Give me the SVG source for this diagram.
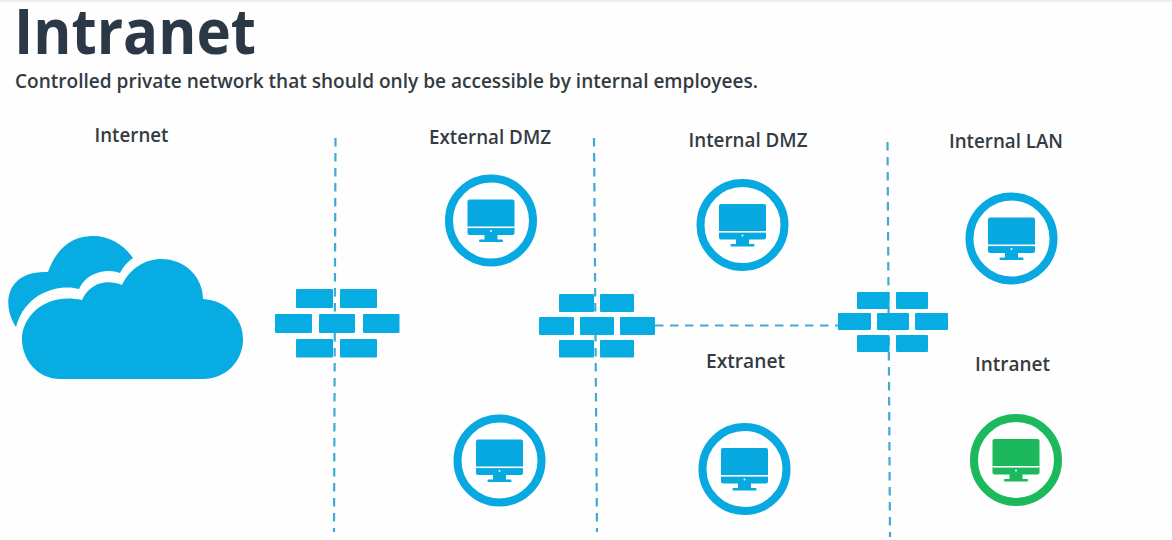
<svg xmlns="http://www.w3.org/2000/svg" width="1172" height="540" viewBox="0 0 1172 540">
<defs>
<style>
text{font-family:"Open Sans","Noto Sans","Liberation Sans",sans-serif}
.title{font-size:62px;font-weight:700;fill:#2a3945}
.sub{font-size:19px;font-weight:600;fill:#333b42}
.lbl{font-size:19px;font-weight:600;fill:#343b42}
.dash{fill:none;stroke:#3fabd2;stroke-width:2.2;stroke-dasharray:8.5 6.5}
.brick{fill:#07ace3}
.ring{fill:#fff;stroke:currentColor;stroke-width:8}
.blue{color:#07a9e0}
.green{color:#1cb85c}
.scr{fill:currentColor}
.cut{fill:#fff}
</style>
<g id="monitor">
<circle class="ring" r="42"/>
<path class="scr" d="M-21.5-21H21.5a2 2 0 0 1 2 2V12.500a2 2 0 0 1-2 2H-21.500a2 2 0 0 1-2-2V-19a2 2 0 0 1 2-2Z"/>
<rect class="scr" x="-6.500" y="14" width="13" height="5.500"/>
<rect class="scr" x="-12" y="19" width="24" height="2.500" rx="1"/>
<rect class="cut" x="-23.500" y="6" width="47" height="1.600"/>
<circle class="cut" cy="10.500" r="1"/>
</g>
</defs>
<rect width="1172" height="540" fill="#fefefe"/>
<rect width="1172" height="2" fill="#efefef"/>
<text class="title" x="14" y="54" textLength="242" lengthAdjust="spacingAndGlyphs">Intranet</text>
<text class="sub" x="15" y="88" textLength="743" lengthAdjust="spacingAndGlyphs">Controlled private network that should only be accessible by internal employees.</text>
<g id="connectors">
<path class="dash" d="M335.500 138L334 532"/>
<path class="dash" d="M594 138L597 532"/>
<path class="dash" d="M887.500 142L890 537"/>
<path class="dash" d="M655 325.500H838"/>
</g>
<g id="cloud">
<path class="brick" d="M16 327C1 305 6 270 48 272C58 244 76 236 93 236C110 236 124 245 133 258C127 262 123 267 120 273C108 268 86 272 79 289C62 284 26 290 16 327Z"/>
<path class="brick" d="M60 379C38 379 22 360 22 339C22 316 46 292 82 300C90 282 108 279 122 285C130 268 146 259 161 259C186 259 203 278 203 299C226 300 243 318 243 339C243 362 225 379 203 379Z"/>
</g>
<g id="firewall-1" class="brick">
<rect x="296" y="289" width="37" height="19" rx="1"/><rect x="340" y="289" width="37" height="19" rx="1"/>
<rect x="275" y="314" width="37" height="19" rx="1"/><rect x="319" y="314" width="36" height="19" rx="1"/><rect x="363" y="314" width="36.500" height="19" rx="1"/>
<rect x="296" y="339" width="37" height="18.500" rx="1"/><rect x="340" y="339" width="37" height="18.500" rx="1"/>
</g>
<g id="firewall-2" class="brick">
<rect x="559" y="294" width="35" height="18" rx="1"/><rect x="600" y="294" width="34" height="18" rx="1"/>
<rect x="539" y="317" width="35" height="18" rx="1"/><rect x="580" y="317" width="34" height="18" rx="1"/><rect x="620" y="317" width="35" height="18" rx="1"/>
<rect x="559" y="340" width="35" height="17.500" rx="1"/><rect x="600" y="340" width="34" height="17.500" rx="1"/>
</g>
<g id="firewall-3" class="brick">
<rect x="857" y="292" width="32.500" height="17" rx="1"/><rect x="896" y="292" width="32" height="17" rx="1"/>
<rect x="838" y="313" width="33" height="17" rx="1"/><rect x="877" y="313" width="32" height="17" rx="1"/><rect x="915" y="313" width="33" height="17" rx="1"/>
<rect x="857" y="335" width="32.500" height="17" rx="1"/><rect x="896" y="335" width="32" height="17" rx="1"/>
</g>
<g id="internet"><text class="lbl" x="94.500" y="142" textLength="74" lengthAdjust="spacingAndGlyphs">Internet</text></g>
<g id="external-dmz-a" class="blue"><text class="lbl" x="429" y="144" textLength="122" lengthAdjust="spacingAndGlyphs">External DMZ</text><use href="#monitor" x="491" y="220.500"/></g>
<g id="external-dmz-b" class="blue"><use href="#monitor" x="499.500" y="460.500"/></g>
<g id="internal-dmz" class="blue"><text class="lbl" x="688.500" y="147" textLength="119" lengthAdjust="spacingAndGlyphs">Internal DMZ</text><use href="#monitor" x="742.500" y="225"/></g>
<g id="extranet" class="blue"><text class="lbl" x="706" y="368" textLength="79" lengthAdjust="spacingAndGlyphs">Extranet</text><use href="#monitor" x="744.500" y="469"/></g>
<g id="internal-lan" class="blue"><text class="lbl" x="949" y="148" textLength="114" lengthAdjust="spacingAndGlyphs">Internal LAN</text><use href="#monitor" x="1011.500" y="238.500"/></g>
<g id="intranet" class="green"><text class="lbl" x="975" y="371" textLength="75" lengthAdjust="spacingAndGlyphs">Intranet</text><use href="#monitor" x="1016" y="460"/></g>
</svg>
